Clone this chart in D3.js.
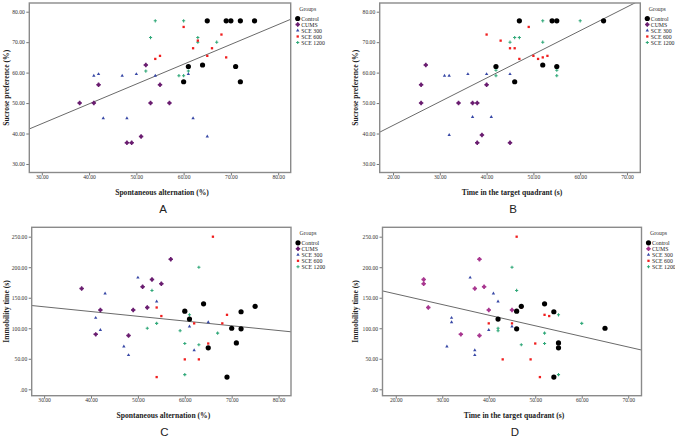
<!DOCTYPE html>
<html>
<head>
<meta charset="utf-8">
<script src="https://cdn.jsdelivr.net/npm/d3@7"></script>
<style>
  body { margin: 0; background: #fff; }
  text { font-family: "Liberation Serif", "DejaVu Serif", serif; }
</style>
</head>
<body>
<div id="chart"></div>
<script>
// groups and tick labels
var groups = ["Control", "CUMS", "SCE 300", "SCE 600", "SCE 1200"];
var altTicks = [30, 40, 50, 60, 70, 80];
var timeTicks = [20, 30, 40, 50, 60, 70];
var sucroseTicks = [30, 40, 50, 60, 70, 80];
var immobTicks = [0, 50, 100, 150, 200, 250];

// A: spontaneous alternation vs sucrose preference  [group, x, y]
var pointsA = [
  [0,65,77],[0,69,77],[0,70,77],[0,72,77],[0,75,77],[0,61,62],[0,64,62.5],[0,71,62],[0,60,57],[0,72,57],
  [1,38,50],[1,41,50],[1,42,56],[1,52,62.5],[1,53,50],[1,55,56],[1,57,50],[1,51,39],[1,48,37],[1,49,37],
  [2,41,59],[2,42,59.5],[2,47,59],[2,50,59.5],[2,54,59],[2,61,59.5],[2,43,45],[2,48,45],[2,62,45],[2,65,39],
  [3,60,75],[3,68,72.5],[3,63,70.5],[3,62,68],[3,66,68],[3,54,64.5],[3,55,65.5],[3,65,65.5],[3,69,65],
  [4,54,77],[4,60,77],[4,53,71.5],[4,63,71.5],[4,63,70],[4,67,70],[4,52,60.5],[4,61,60.5],[4,59,59],[4,60,59]
];
// B: time in target quadrant vs sucrose preference
var pointsB = [
  [0,47,77],[0,54,77],[0,55,77],[0,65,77],[0,42,62],[0,52,62.5],[0,55,62],[0,46,57],
  [1,27,62.5],[1,26,56],[1,26,50],[1,34,50],[1,37,50],[1,38,50],[1,40,56],[1,39,39.5],[1,38,37],[1,45,37],
  [2,31,59],[2,32,59],[2,36,59.5],[2,40,59.5],[2,45,59.5],[2,37,45.4],[2,41,45.4],[2,32,39.5],
  [3,49,75],[3,40,72.5],[3,43,70.5],[3,45,68],[3,46,68],[3,47,64.5],[3,50,65.5],[3,51,64.5],[3,52,65],[3,53,65.5],
  [4,52,77],[4,60,77],[4,46,71.5],[4,47,71.5],[4,45,70],[4,52,70],[4,42,60.8],[4,42,59],[4,55,60.8],[4,55,59]
];
// C: spontaneous alternation vs immobility time
var pointsC = [
  [0,60,128],[0,61,115],[0,64,140],[0,72,127],[0,75,136],[0,70,100],[0,72,99],[0,71,76],[0,65,68],[0,69,20],
  [1,38,165],[1,42,130],[1,41,90],[1,48,88],[1,49,130],[1,51,168],[1,52,134],[1,53,180],[1,55,173],[1,57,213],
  [2,50,183],[2,43,157],[2,41,117],[2,42,97],[2,54,144],[2,61,103],[2,65,110],[2,47,70],[2,48,56],[2,62,64],
  [3,66,250],[3,54,134],[3,55,120],[3,62,108],[3,68,108],[3,69,122],[3,65,75],[3,60,49],[3,63,49],[3,54,20],
  [4,63,200],[4,53,162],[4,61,122],[4,52,100],[4,54,108],[4,59,96],[4,67,92],[4,60,75],[4,63,73],[4,60,24]
];
// D: time in target quadrant vs immobility time
var pointsD = [
  [0,47,136],[0,46,128],[0,42,115],[0,46,99],[0,52,140],[0,54,127],[0,55,76],[0,55,68],[0,54,20],[0,65,100],
  [1,26,180],[1,26,173],[1,27,134],[1,34,90],[1,37,165],[1,39,168],[1,38,213],[1,38,88],[1,40,130],[1,45,130],
  [2,36,183],[2,41,157],[2,42,144],[2,32,117],[2,32,110],[2,31,70],[2,37,64],[2,37,56],[2,40,97],[2,45,103],
  [3,46,250],[3,47,134],[3,40,108],[3,45,108],[3,52,122],[3,53,120],[3,50,75],[3,43,49],[3,49,49],[3,51,20],
  [4,45,200],[4,46,162],[4,55,122],[4,60,108],[4,42,100],[4,42,96],[4,52,92],[4,47,73],[4,52,75],[4,55,24]
];
// fit lines [intercept, slope]
var fitA = [23.7, 0.651];
var fitB = [27.1, 0.778];
var fitC = [158.5, -0.778];
var fitD = [191.0, -1.739];

var colors = ["#000000", "#6a1d70", "#3848a6", "#f01e1e", "#2fa878"];
var colorsD = ["#000000", "#a8368f", "#3848a6", "#f01e1e", "#2fa878"];

var svg = d3.select("#chart").append("svg").attr("width", 675).attr("height", 439);
svg.append("rect").attr("width", 675).attr("height", 439).attr("fill", "#fff");

var panels = [
  {id:"A", pts:pointsA, fit:fitA, x0:29.3, x1:290.7, y0:3, y1:172.5, xd:[27.35,82.65], yd:[27.2,82.86], xt:altTicks, yt:sucroseTicks,
   xl:"Spontaneous alternation (%)", yl:"Sucrose preference (%)", ylx:6, col:colors},
  {id:"B", pts:pointsB, fit:fitB, x0:379.7, x1:640.3, y0:3, y1:172.5, xd:[17.15,72.85], yd:[27.2,82.86], xt:timeTicks, yt:sucroseTicks,
   xl:"Time in the target quadrant (s)", yl:"Sucrose preference (%)", ylx:355, col:colors},
  {id:"C", pts:pointsC, fit:fitC, x0:31.7, x1:291, y0:227.3, y1:395.7, xd:[27.35,82.65], yd:[-10.5,265.4], xt:altTicks, yt:immobTicks,
   xl:"Spontaneous alternation (%)", yl:"Immobility time (s)", ylx:6, col:colors},
  {id:"D", pts:pointsD, fit:fitD, x0:382.5, x1:641.5, y0:227.3, y1:395.7, xd:[17.15,72.85], yd:[-10.5,265.4], xt:timeTicks, yt:immobTicks,
   xl:"Time in the target quadrant (s)", yl:"Immobility time (s)", ylx:355, col:colorsD}
];

var fmt = function(d) { return d === 0 ? ".00" : d.toFixed(2); };

function mark(sel, gi, color) {
  if (gi === 0) {
    sel.append("circle").attr("r", 2.6).attr("fill", color);
  } else if (gi === 1) {
    sel.append("path").attr("d", d3.symbol().type(d3.symbolCross).size(11)).attr("fill", color);
    sel.append("circle").attr("r", 1.7).attr("fill", color);
  } else if (gi === 2) {
    sel.append("path").attr("d", d3.symbol().type(d3.symbolTriangle).size(5)).attr("fill", color);
  } else if (gi === 3) {
    sel.append("rect").attr("x", -1.15).attr("y", -1.15).attr("width", 2.3).attr("height", 2.3).attr("fill", color);
  } else {
    sel.append("path").attr("d", d3.symbol().type(d3.symbolCross).size(5.5)).attr("fill", color);
  }
}

panels.forEach(function(p) {
  var x = d3.scaleLinear().domain(p.xd).range([p.x0, p.x1]);
  var y = d3.scaleLinear().domain(p.yd).range([p.y1, p.y0]);
  var g = svg.append("g");

  // axes
  var xa = g.append("g").attr("transform", "translate(0," + p.y1 + ")")
    .call(d3.axisBottom(x).tickValues(p.xt).tickFormat(fmt).tickSize(3).tickSizeOuter(0));
  var ya = g.append("g").attr("transform", "translate(" + p.x0 + ",0)")
    .call(d3.axisLeft(y).tickValues(p.yt).tickFormat(fmt).tickSize(3).tickSizeOuter(0));
  [xa, ya].forEach(function(a) {
    a.select(".domain").remove();
    a.selectAll("line").attr("stroke", "#777");
    a.selectAll("text").attr("font-family", "Liberation Serif").attr("font-size", 5.6).attr("fill", "#333");
  });
  xa.selectAll("text").attr("dy", "0.2em").attr("y", 5);
  ya.selectAll("text").attr("x", -4.5);

  // clip
  svg.append("clipPath").attr("id", "clip" + p.id).append("rect")
    .attr("x", p.x0).attr("y", p.y0).attr("width", p.x1 - p.x0).attr("height", p.y1 - p.y0);

  // fit line
  var line = d3.line().x(function(d) { return x(d); }).y(function(d) { return y(p.fit[0] + p.fit[1] * d); });
  g.append("path").attr("clip-path", "url(#clip" + p.id + ")").datum(p.xd).attr("d", line)
    .attr("fill", "none").attr("stroke", "#6a6a6a").attr("stroke-width", 1);

  // points, drawn so control is on top
  var order = p.pts.slice().sort(function(a, b) { return b[0] - a[0]; });
  g.selectAll("g.pt").data(order).enter().append("g").attr("class", "pt")
    .attr("transform", function(d) { return "translate(" + x(d[1]) + "," + y(d[2]) + ")"; })
    .each(function(d) { mark(d3.select(this), d[0], p.col[d[0]]); });

  // frame
  g.append("rect").attr("x", p.x0).attr("y", p.y0).attr("width", p.x1 - p.x0).attr("height", p.y1 - p.y0)
    .attr("fill", "none").attr("stroke", "#8a8a8a").attr("stroke-width", 1.4);

  // axis titles
  g.append("text").attr("x", (p.x0 + p.x1) / 2 + 2).attr("y", p.y1 + 22).attr("text-anchor", "middle")
    .attr("font-weight", "bold").attr("font-size", 7.6).attr("fill", "#222").text(p.xl);
  g.append("text").attr("transform", "translate(" + p.ylx + "," + ((p.y0 + p.y1) / 2) + ") rotate(-90)")
    .attr("text-anchor", "middle").attr("dy", "0.35em")
    .attr("font-weight", "bold").attr("font-size", 7.6).attr("fill", "#222").text(p.yl);

  // panel letter
  g.append("text").attr("x", (p.x0 + p.x1) / 2 + 3).attr("y", p.y1 + 40).attr("text-anchor", "middle")
    .style("font-family", "Liberation Sans, Arial, sans-serif").attr("font-size", 11.5).attr("fill", "#222").text(p.id);

  // legend
  var lg = g.append("g").attr("transform", "translate(" + (p.x1 + 5.5) + "," + p.y0 + ")");
  lg.append("text").attr("x", 3).attr("y", 8).attr("font-size", 5.8).attr("fill", "#333").text("Groups");
  var li = lg.selectAll("g.li").data(groups).enter().append("g").attr("class", "li")
    .attr("transform", function(d, i) { return "translate(1.5," + (15.5 + i * 6) + ")"; });
  li.each(function(d, i) { mark(d3.select(this), i, p.col[i]); });
  li.append("text").attr("x", 3.5).attr("dy", "0.35em").attr("font-size", 5.8).attr("fill", "#222").text(String);
});
</script>
</body>
</html>
